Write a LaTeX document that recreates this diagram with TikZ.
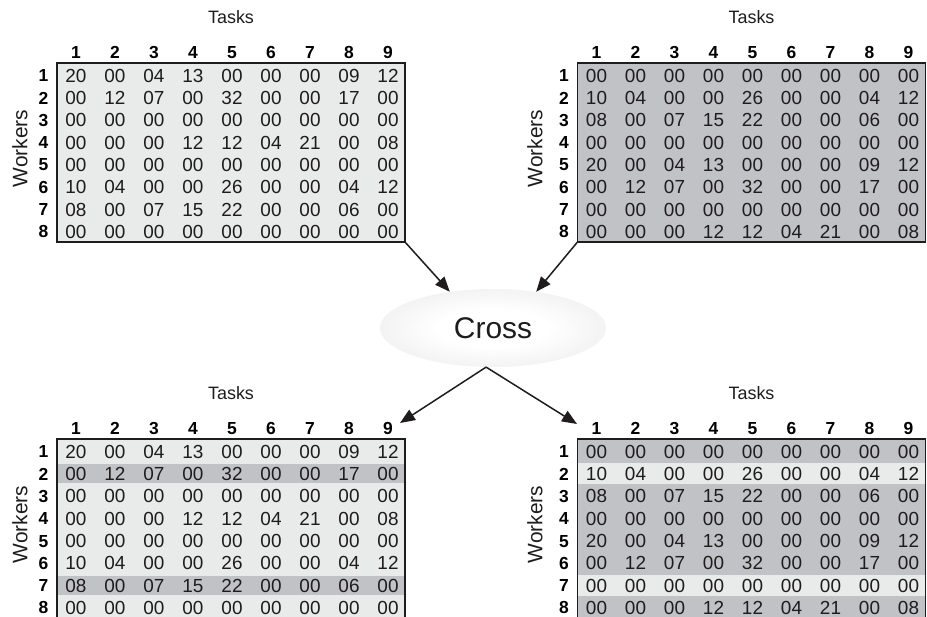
\documentclass[tikz,border=0pt]{standalone}
\usepackage{fontspec}
\setmainfont{Liberation Sans}
\usetikzlibrary{arrows.meta,shapes.geometric}
\definecolor{lightfill}{RGB}{233,234,234}
\definecolor{darkfill}{RGB}{193,194,197}
\definecolor{ink}{RGB}{30,28,29}
\definecolor{crossedge}{RGB}{220,220,220}
\pgfdeclareradialshading{crossshade}{\pgfpoint{0bp}{0bp}}{color(0bp)=(white); color(12bp)=(white); color(50bp)=(crossedge)}
\tikzset{
  panelbox/.style={draw=ink, line width=1.8bp, anchor=north west, minimum width=348bp, inner sep=0pt, outer sep=0pt},
  cellnum/.style={font=\fontsize{19}{19}\selectfont, text=ink, inner sep=0pt, anchor=base},
  headnum/.style={font=\fontsize{17.5}{17.5}\selectfont\bfseries, text=black, inner sep=0pt, anchor=base},
  taskslabel/.style={font=\fontsize{18}{18}\selectfont, text=ink, inner sep=0pt},
  workerslabel/.style={font=\fontsize{21}{21}\selectfont, text=ink, inner sep=0pt, rotate=90},
  crossnode/.style={ellipse, shading=crossshade, minimum width=226bp, minimum height=78bp, inner sep=0pt, font=\fontsize{30}{30}\selectfont, text=ink},
  link/.style={draw=ink, line width=1.5bp, -{Triangle[length=15bp,width=12bp]}},
}
\def\dataA{{20,00,04,13,00,00,00,09,12},{00,12,07,00,32,00,00,17,00},{00,00,00,00,00,00,00,00,00},{00,00,00,12,12,04,21,00,08},{00,00,00,00,00,00,00,00,00},{10,04,00,00,26,00,00,04,12},{08,00,07,15,22,00,00,06,00},{00,00,00,00,00,00,00,00,00}}
\def\dataB{{00,00,00,00,00,00,00,00,00},{10,04,00,00,26,00,00,04,12},{08,00,07,15,22,00,00,06,00},{00,00,00,00,00,00,00,00,00},{20,00,04,13,00,00,00,09,12},{00,12,07,00,32,00,00,17,00},{00,00,00,00,00,00,00,00,00},{00,00,00,12,12,04,21,00,08}}
% #1 name, #2 x, #3 y, #4 fill, #5 height
\newcommand\matbox[5]{\node[panelbox, fill=#4, minimum height=#5bp] (#1) at (#2,#3) {};}
% #1 x0, #2 y0, #3 row, #4 colour, #5 half height
\newcommand\matband[5]{\fill[#4] ({#1+0.9},{#2+12.5+22.3*(#3-1)-#5}) rectangle ({#1+347.1},{#2+12.5+22.3*(#3-1)+#5});}
% #1 name, #2 x0, #3 y0, #4 workers dx, #5 data
\newcommand\matcontent[5]{%
  \begin{scope}[shift={(#2,#3)}]
    \node[taskslabel] (#1-tasks) at (174,-46) {Tasks};
    \node[workerslabel] (#1-workers) at (#4,85.5) {Workers};
    \foreach \c in {1,...,9} {\node[headnum] (#1-h\c) at ({19+39*(\c-1)},{-11+6.3}) {\c};}
    \foreach \r in {1,...,8} {\node[headnum] (#1-r\r) at (-13.5,{12.5+22.3*(\r-1)+6.3}) {\r};}
    \foreach \row [count=\r] in #5 {
      \foreach \v [count=\c] in \row {
        \node[cellnum] (#1-\r-\c) at ({19+39*(\c-1)},{12.5+22.3*(\r-1)+6.8}) {\v};
      }
    }
  \end{scope}}
\begin{document}
\begin{tikzpicture}[x=1bp,y=-1bp]
  \useasboundingbox (0,0) rectangle (927,617);
  % top left
  \matbox{TL}{57}{63}{lightfill}{179}
  \matcontent{TL}{57}{63}{-37}{\dataA}
  % top right
  \matbox{TR}{577.5}{63}{darkfill}{179}
  \matcontent{TR}{577.5}{63}{-42.5}{\dataB}
  % bottom left
  \matbox{BL}{57}{439}{lightfill}{186}
  \matband{57}{439}{2}{darkfill}{9.5}
  \matband{57}{439}{7}{darkfill}{9.5}
  \matcontent{BL}{57}{439}{-37}{\dataA}
  % bottom right
  \matbox{BR}{577.5}{439}{darkfill}{186}
  \matband{577.5}{439}{2}{lightfill}{10.5}
  \matband{577.5}{439}{7}{lightfill}{10.5}
  \matcontent{BR}{577.5}{439}{-42.5}{\dataB}
  % cross
  \node[crossnode] (cross) at (493,328) {Cross};
  \coordinate (tipBL) at (400,423);
  \coordinate (tipBR) at (577,424);
  \draw[link] (TL.south east) -- (cross.140);
  \draw[link] (TR.south west) -- (cross.40);
  \draw[link] (cross.260) -- (tipBL);
  \draw[link] (cross.260) -- (tipBR);
\end{tikzpicture}
\end{document}
